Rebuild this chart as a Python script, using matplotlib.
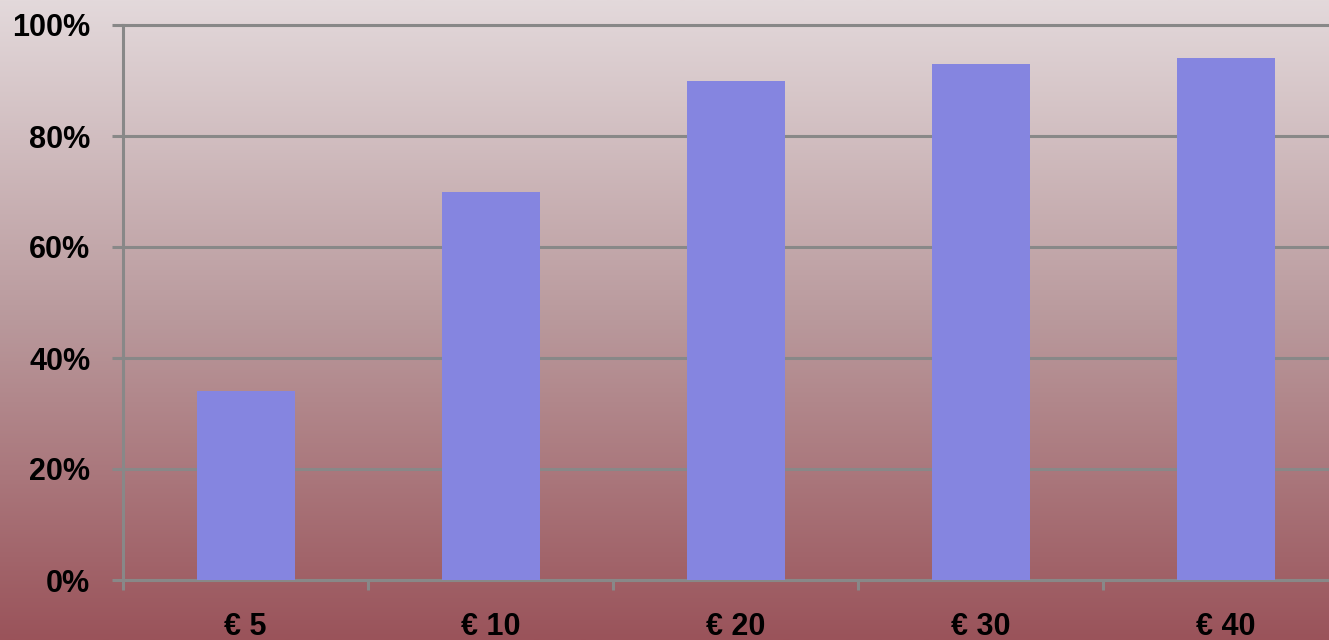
import matplotlib
matplotlib.use("Agg")
import matplotlib.pyplot as plt
import numpy as np
from matplotlib.colors import LinearSegmentedColormap
from matplotlib.ticker import FixedLocator, PercentFormatter

categories = ["€ 5", "€ 10", "€ 20", "€ 30", "€ 40"]
values = [34, 70, 90, 93, 94]
yticks = [0, 20, 40, 60, 80, 100]

W, H = 1329, 640
fig = plt.figure(figsize=(W / 100, H / 100), dpi=100)

# gradient background
bg = fig.add_axes([0, 0, 1, 1], zorder=0)
cmap = LinearSegmentedColormap.from_list("bg", ["#e3d9db", "#b9999c", "#9a535a"])
grad = np.linspace(0, 1, 256).reshape(-1, 1)
bg.imshow(grad, aspect="auto", cmap=cmap, extent=[0, 1, 0, 1], origin="upper")
bg.set_axis_off()

left, bottom = 123 / W, 60 / H
ax = fig.add_axes([left, bottom, 1225 / W, 555 / H], zorder=1)
ax.set_facecolor("none")

x = np.arange(len(categories))
ax.bar(x, values, width=0.4, color="#8585e0", zorder=3)

ax.set_xlim(-0.5, len(categories) - 0.5)
ax.set_ylim(0, 100)
ax.set_yticks(yticks)
ax.yaxis.set_major_formatter(PercentFormatter(decimals=0))
ax.set_xticks(x)
ax.set_xticklabels(categories)
ax.xaxis.set_minor_locator(FixedLocator(np.arange(-0.5, len(categories), 1.0)))

gray = "#888888"
ax.grid(axis="y", color=gray, linewidth=2.2, zorder=1)
for gl in ax.get_ygridlines():
    gl.set_clip_on(False)
for s in ["top", "right"]:
    ax.spines[s].set_visible(False)
for s in ["left", "bottom"]:
    ax.spines[s].set_color(gray)
    ax.spines[s].set_linewidth(2.2)

ax.tick_params(axis="y", which="major", length=8, width=2.2, color=gray, pad=15.5,
               labelsize=22, labelcolor="black")
ax.tick_params(axis="x", which="major", length=0, pad=23, labelsize=22, labelcolor="black")
ax.tick_params(axis="x", which="minor", length=7, width=2.2, color=gray, direction="out")
for lab in ax.get_yticklabels() + ax.get_xticklabels():
    lab.set_fontfamily("Liberation Sans")
    lab.set_fontweight("bold")

fig.savefig("out.png", dpi=100)
